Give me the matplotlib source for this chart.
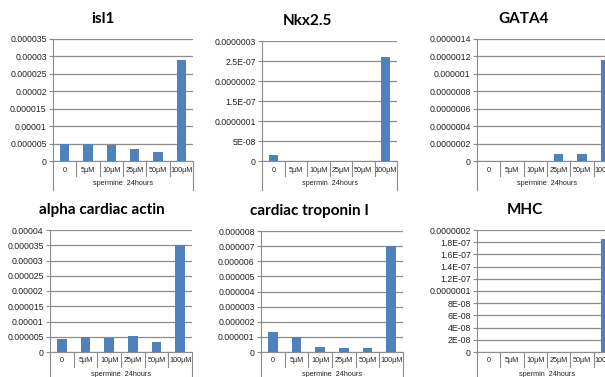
import matplotlib.pyplot as plt
from matplotlib.transforms import blended_transform_factory

plt.rcParams['font.family'] = ['Lato', 'DejaVu Sans']

# treatment groups on the category axis
categories = ['0', '5µM', '10µM', '25µM', '50µM', '100µM']

# relative expression per gene
isl1 = [5.0e-6, 4.8e-6, 4.5e-6, 3.5e-6, 2.7e-6, 2.9e-5]
nkx25 = [1.5e-8, 0, 0, 0, 0, 2.6e-7]
gata4 = [0, 0, 0, 8e-8, 8e-8, 1.16e-6]
actin = [4.1e-6, 4.9e-6, 4.7e-6, 5.3e-6, 3.3e-6, 3.5e-5]
troponin = [1.3e-6, 0.97e-6, 0.35e-6, 0.29e-6, 0.24e-6, 7.03e-6]
mhc = [0, 0, 0, 0, 0, 1.85e-7]

titles = ['isl1', 'Nkx2.5', 'GATA4', 'alpha cardiac actin', 'cardiac troponin I', 'MHC']
groups = ['spermine  24hours', 'spermin  24hours', 'spermine  24hours',
          'spermine  24hours', 'spermine  24hours', 'spermin  24hours']

# y tick step and Excel-style tick labels
steps = [5e-6, 5e-8, 2e-7, 5e-6, 1e-6, 2e-8]
isl1_ticks = ['0', '0.000005', '0.00001', '0.000015', '0.00002', '0.000025',
              '0.00003', '0.000035']
nkx25_ticks = ['0', '5E-08', '0.0000001', '1.5E-07', '0.0000002', '2.5E-07',
               '0.0000003']
gata4_ticks = ['0', '0.0000002', '0.0000004', '0.0000006', '0.0000008',
               '0.000001', '0.0000012', '0.0000014']
actin_ticks = ['0', '0.000005', '0.00001', '0.000015', '0.00002', '0.000025',
               '0.00003', '0.000035', '0.00004']
troponin_ticks = ['0', '0.000001', '0.000002', '0.000003', '0.000004',
                  '0.000005', '0.000006', '0.000007', '0.000008']
mhc_ticks = ['0', '2E-08', '4E-08', '6E-08', '8E-08', '0.0000001', '1.2E-07',
             '1.4E-07', '1.6E-07', '1.8E-07', '0.0000002']

series = [isl1, nkx25, gata4, actin, troponin, mhc]
tick_labels = [isl1_ticks, nkx25_ticks, gata4_ticks, actin_ticks,
               troponin_ticks, mhc_ticks]

# plot boxes in pixels: left, top, right, bottom, title x
boxes = [(53, 39, 193, 161, 103), (262, 41, 397, 161, 307),
         (477, 39, 617, 161, 524), (50, 230, 192, 352, 102),
         (261, 231, 403, 352, 309), (477, 230, 617, 352, 525)]

W, H = 605, 377
GRID = '#8c8c8c'
BLUE = '#4f81bd'

fig = plt.figure(figsize=(W / 100, H / 100), dpi=100)


def panel(box, title, values, step, labels, group):
    left, top, right, bottom, tx = box
    h = bottom - top
    ax = fig.add_axes([left / W, 1 - bottom / H, (right - left) / W, h / H])
    x = range(len(categories))
    ax.bar(x, values, width=0.4, color=BLUE, zorder=3)
    ax.set_xlim(-0.5, len(categories) - 0.5)
    ticks = [step * i for i in range(len(labels))]
    ax.set_ylim(0, ticks[-1])
    ax.set_yticks(ticks)
    ax.set_yticklabels(labels, family='Liberation Sans')
    ax.yaxis.grid(True, color=GRID, lw=0.9)
    ax.set_axisbelow(True)
    ax.set_xticks([])
    for s in ['top', 'right']:
        ax.spines[s].set_visible(False)
    ax.spines['left'].set_color(GRID)
    ax.spines['bottom'].set_color(GRID)
    ax.tick_params(axis='y', length=3, width=0.8, color=GRID, pad=1.5,
                   labelsize=6.3, labelcolor='#222222')

    # category boxes under the axis
    trans = blended_transform_factory(ax.transData, ax.transAxes)
    for i, c in enumerate(categories):
        ax.text(i, -9 / h, c, transform=trans, ha='center', va='center',
                fontsize=5.2, color='#222222', family='Liberation Sans')
        if i < len(categories) - 1:
            ax.plot([i + 0.5, i + 0.5], [0, -15 / h], transform=trans,
                    color=GRID, lw=0.8, clip_on=False)
    for xe in (-0.5, len(categories) - 0.5):
        ax.plot([xe, xe], [0, -29 / h], transform=trans, color=GRID,
                lw=0.8, clip_on=False)
    ax.text((len(categories) - 1) / 2, -22 / h, group, transform=trans,
            ha='center', va='center', fontsize=5.2, color='#222222',
            family='Liberation Sans')

    fig.text(tx / W, 1 - (top - 20) / H, title, ha='center', va='center',
             fontsize=11, fontweight='bold', color='black')


for i in range(6):
    panel(boxes[i], titles[i], series[i], steps[i], tick_labels[i], groups[i])

fig.savefig('out.png', dpi=100)
